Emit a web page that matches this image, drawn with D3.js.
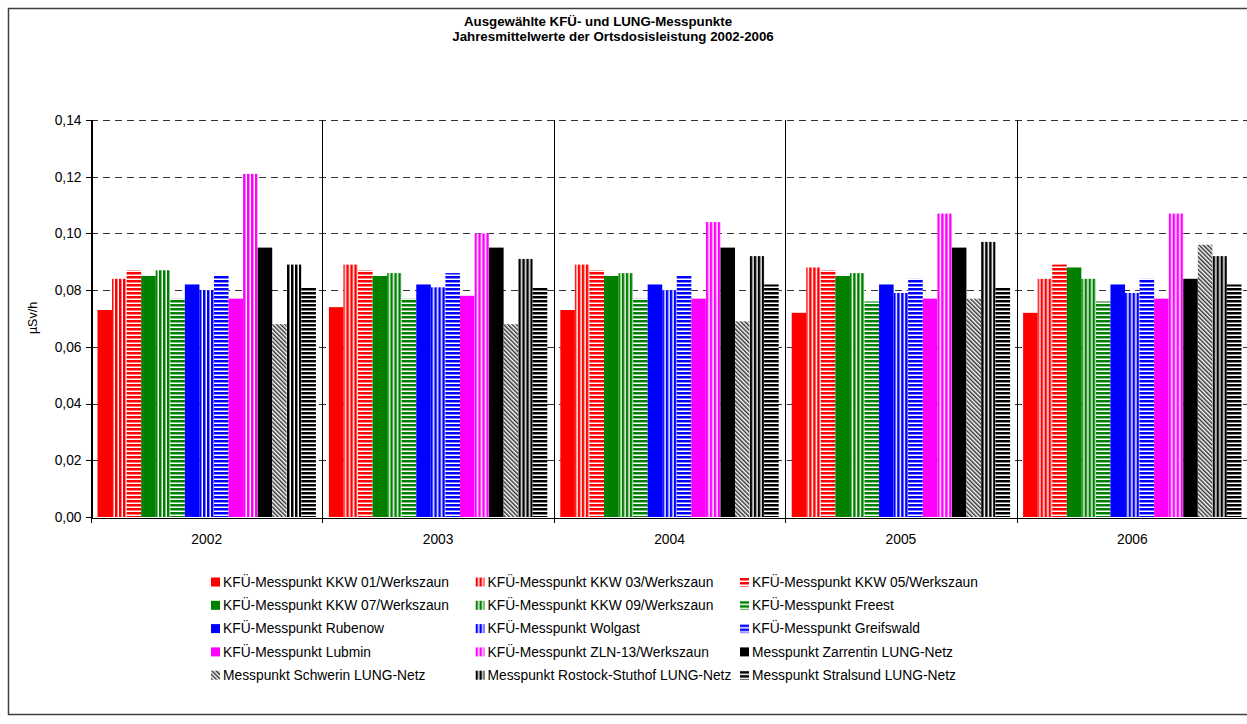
<!DOCTYPE html>
<html>
  <head>
    <meta charset="utf-8">
    <script type="text/javascript" src="https://cdn.jsdelivr.net/npm/d3@7"></script>
    <style type="text/css">

html, body {
  margin: 0;
  background: #fff;
}

svg {
  display: block;
  font-family: "Liberation Sans", Arial, sans-serif;
}

.axis path, .axis line {
  stroke: #000;
  shape-rendering: crispEdges;
}

.axis text {
  font-size: 13.8px;
  fill: #000;
}

    </style>
  </head>
  <body>
    <div id="chart"></div>
    <script type="text/javascript">

var years = ["2002", "2003", "2004", "2005", "2006"];

var stations = [
  "KFÜ-Messpunkt KKW 01/Werkszaun",
  "KFÜ-Messpunkt KKW 03/Werkszaun",
  "KFÜ-Messpunkt KKW 05/Werkszaun",
  "KFÜ-Messpunkt KKW 07/Werkszaun",
  "KFÜ-Messpunkt KKW 09/Werkszaun",
  "KFÜ-Messpunkt Freest",
  "KFÜ-Messpunkt Rubenow",
  "KFÜ-Messpunkt Wolgast",
  "KFÜ-Messpunkt Greifswald",
  "KFÜ-Messpunkt Lubmin",
  "KFÜ-Messpunkt ZLN-13/Werkszaun",
  "Messpunkt Zarrentin LUNG-Netz",
  "Messpunkt Schwerin LUNG-Netz",
  "Messpunkt Rostock-Stuthof LUNG-Netz",
  "Messpunkt Stralsund LUNG-Netz"
];

// Jahresmittel in µSv/h, eine Zeile pro Messpunkt (2002..2006)
var values = [
  [0.073, 0.074, 0.073, 0.072, 0.072],
  [0.084, 0.089, 0.089, 0.088, 0.084],
  [0.087, 0.087, 0.087, 0.087, 0.089],
  [0.085, 0.085, 0.085, 0.085, 0.088],
  [0.087, 0.086, 0.086, 0.086, 0.084],
  [0.077, 0.077, 0.077, 0.076, 0.076],
  [0.082, 0.082, 0.082, 0.082, 0.082],
  [0.080, 0.081, 0.080, 0.079, 0.079],
  [0.085, 0.086, 0.085, 0.084, 0.084],
  [0.077, 0.078, 0.077, 0.077, 0.077],
  [0.121, 0.100, 0.104, 0.107, 0.107],
  [0.095, 0.095, 0.095, 0.095, 0.084],
  [0.068, 0.068, 0.069, 0.077, 0.096],
  [0.089, 0.091, 0.092, 0.097, 0.092],
  [0.081, 0.081, 0.082, 0.081, 0.082]
];

var yTicks = [0, 0.02, 0.04, 0.06, 0.08, 0.10, 0.12, 0.14];

// styling per station
var colors = ["#ff0000", "#ff0000", "#ff0000", "#008000", "#008000", "#008000",
              "#0000ff", "#0000ff", "#0000ff", "#ff00ff", "#ff00ff", "#000000",
              "#333333", "#000000", "#000000"];
var kinds = ["solid", "vert", "horiz", "solid", "vert", "horiz",
             "solid", "vert", "horiz", "solid", "vert", "solid",
             "diag", "vert", "horiz"];

var W = 1247,
    H = 724,
    plotLeft = 91,
    plotRight = 1248,
    plotTop = 120,
    plotBottom = 517;

var svg = d3.select("#chart").append("svg")
    .attr("width", W)
    .attr("height", H);

// outer chart border
svg.append("rect")
    .attr("x", 8.5)
    .attr("y", 8.5)
    .attr("width", 1260)
    .attr("height", 706)
    .attr("fill", "none")
    .attr("stroke", "#404040")
    .attr("stroke-width", 1.5);

var x0 = d3.scaleBand().domain(years).range([plotLeft, plotRight]);
var x1 = d3.scaleBand().domain(d3.range(stations.length)).range([6.5, x0.bandwidth() - 6.5]);
var y = d3.scaleLinear().domain([0, 0.14]).range([plotBottom, plotTop]);

// fill patterns
var defs = svg.append("defs");
kinds.forEach(function(k, i) {
  if (k == "solid") return;
  var c = colors[i],
      p = defs.append("pattern")
        .attr("id", "pat" + i)
        .attr("patternUnits", "userSpaceOnUse")
        .attr("width", k == "diag" ? 3 : 4)
        .attr("height", 4);
  p.append("rect").attr("width", 4).attr("height", 4).attr("fill", "#fff");
  if (k == "vert") p.append("rect").attr("width", 2.5).attr("height", 4).attr("fill", c);
  if (k == "horiz") p.append("rect").attr("width", 4).attr("height", 2.5).attr("fill", c);
  if (k == "diag") {
    p.attr("patternTransform", "rotate(-45)");
    p.append("rect").attr("width", 1.5).attr("height", 4).attr("fill", c);
  }
});

function fillOf(i) {
  return kinds[i] == "solid" ? colors[i] : "url(#pat" + i + ")";
}

// dashed gridlines
svg.append("g").selectAll("line")
    .data(yTicks.filter(function(d) { return d > 0; }))
  .enter().append("line")
    .attr("x1", plotLeft)
    .attr("x2", plotRight)
    .attr("y1", function(d) { return Math.round(y(d)) + 0.5; })
    .attr("y2", function(d) { return Math.round(y(d)) + 0.5; })
    .attr("stroke", "#333")
    .attr("stroke-dasharray", "7,5");

// category separators with ticks below the axis
svg.append("g").selectAll("line")
    .data(years.concat(["end"]))
  .enter().append("line")
    .attr("x1", function(d, i) { return Math.round(plotLeft + i * x0.step()) + 0.5; })
    .attr("x2", function(d, i) { return Math.round(plotLeft + i * x0.step()) + 0.5; })
    .attr("y1", plotTop)
    .attr("y2", plotBottom + 6)
    .attr("stroke", "#000");

// bars
var groups = svg.append("g").selectAll("g")
    .data(years)
  .enter().append("g")
    .attr("transform", function(d) { return "translate(" + x0(d) + ",0)"; });

groups.selectAll("rect")
    .data(function(d, j) { return values.map(function(v, i) { return {i: i, v: v[j]}; }); })
  .enter().append("rect")
    .attr("x", function(d) { return x1(d.i); })
    .attr("width", x1.bandwidth())
    .attr("y", function(d) { return y(d.v); })
    .attr("height", function(d) { return plotBottom - y(d.v); })
    .attr("fill", function(d) { return fillOf(d.i); });

// axes
svg.append("g")
    .attr("class", "axis")
    .attr("transform", "translate(" + (plotLeft + 0.5) + ",0)")
    .call(d3.axisLeft(y)
      .tickValues(yTicks)
      .tickSize(6)
      .tickPadding(4)
      .tickFormat(function(d) { return d3.format(".2f")(d).replace(".", ","); }));

svg.append("g")
    .attr("class", "axis")
    .attr("transform", "translate(0," + (plotBottom + 0.5) + ")")
    .call(d3.axisBottom(x0).tickSize(0).tickSizeOuter(0).tickPadding(17));

svg.append("text")
    .attr("transform", "translate(37,318) rotate(-90)")
    .attr("text-anchor", "middle")
    .style("font-size", "12.5px")
    .text("µSv/h");

// title
svg.append("text")
    .attr("x", 598)
    .attr("y", 26)
    .attr("text-anchor", "middle")
    .style("font-size", "13.3px")
    .style("font-weight", "bold")
    .text("Ausgewählte KFÜ- und LUNG-Messpunkte");

svg.append("text")
    .attr("x", 613)
    .attr("y", 41)
    .attr("text-anchor", "middle")
    .style("font-size", "13.3px")
    .style("font-weight", "bold")
    .text("Jahresmittelwerte der Ortsdosisleistung 2002-2006");

// legend, 3 columns
var legend = svg.append("g").selectAll("g")
    .data(stations)
  .enter().append("g")
    .attr("transform", function(d, i) {
      return "translate(" + (211 + (i % 3) * 264.5) + "," + (582 + Math.floor(i / 3) * 23.3) + ")";
    });

legend.append("rect")
    .attr("y", -4.5)
    .attr("width", 9)
    .attr("height", 9)
    .attr("fill", function(d, i) { return fillOf(i); });

legend.append("text")
    .attr("x", 12)
    .attr("dy", "0.35em")
    .style("font-size", "13.8px")
    .text(function(d) { return d; });

    </script>
  </body>
</html>
